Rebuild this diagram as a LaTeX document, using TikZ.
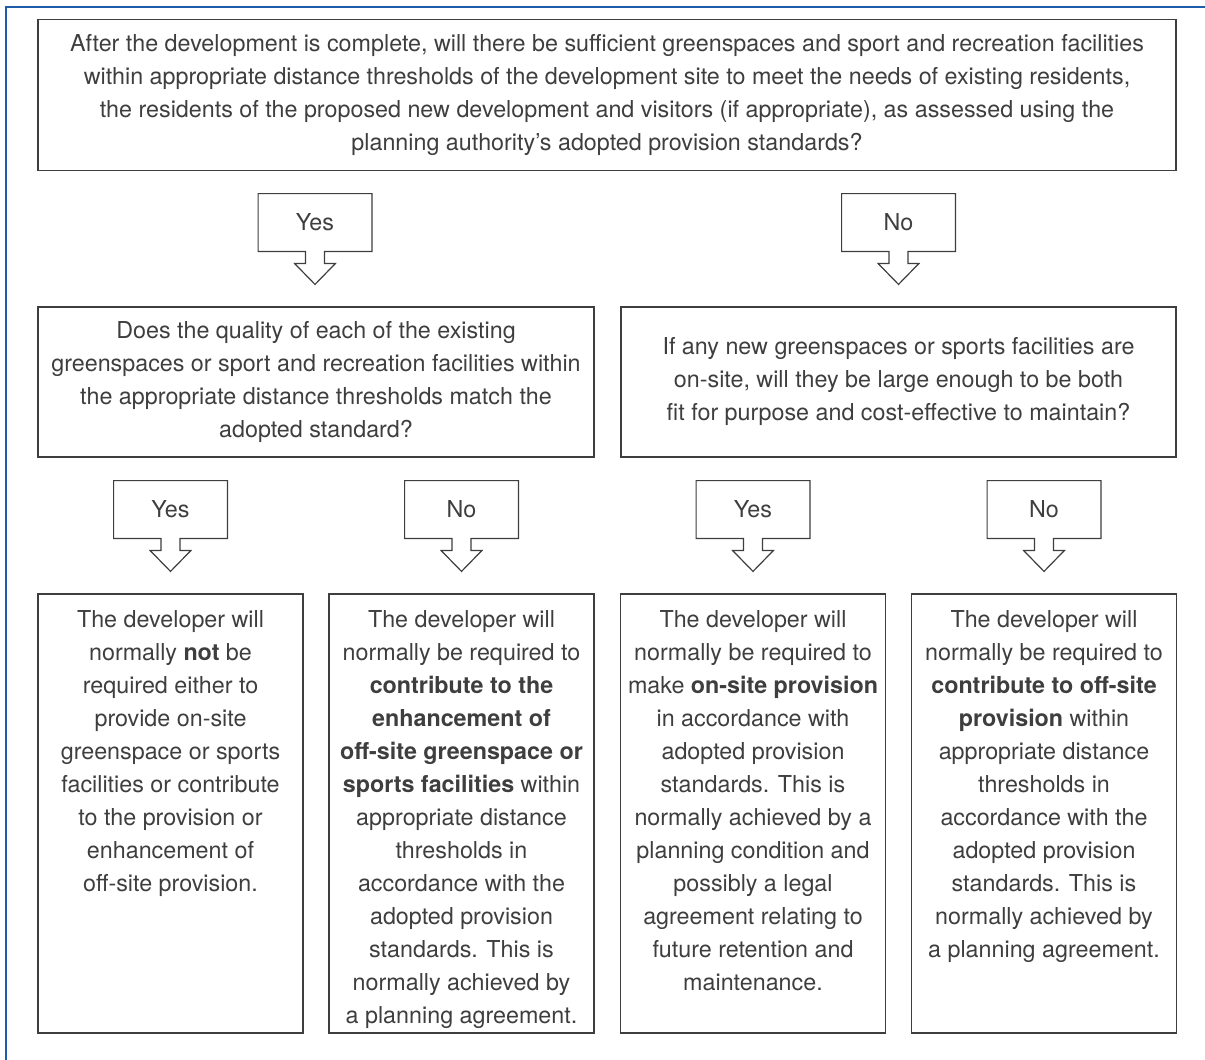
\documentclass[tikz,border=0pt]{standalone}
\usepackage{fontspec}
\setmainfont{TeX Gyre Heros}
\usetikzlibrary{positioning,calc}
\definecolor{frameblue}{RGB}{30,92,168}
\definecolor{inkgrey}{RGB}{62,62,62}

\begin{document}
\begin{tikzpicture}[x=0.5pt,y=-0.5pt,
    txt/.style={inner sep=0pt,align=center,text=inkgrey,font=\fontsize{11.65}{16.5}\selectfont},
    qbox/.style={txt,draw=inkgrey,line width=0.75pt},
    outbox/.style={draw=inkgrey,line width=0.75pt,minimum width=132.5pt,minimum height=219.5pt,inner sep=0pt},
    answer/.style={txt,minimum width=56.5pt,minimum height=28.5pt},
    answerline/.style={draw=inkgrey,line width=0.6pt,line join=miter}]
    \useasboundingbox (0,0) rectangle (1205,1060);
    \draw[frameblue,line width=1pt] (6,1060) -- (6,7) -- (1205,7);

    % questions
    \node[qbox,minimum width=569pt,minimum height=75.5pt] (sufficient) at (607,95)
        {After the development is complete, will there be sufficient greenspaces and sport and recreation facilities\\
         within appropriate distance thresholds of the development site to meet the needs of existing residents,\\
         the residents of the proposed new development and visitors (if appropriate), as assessed using the\\
         planning authority’s adopted provision standards?};
    \node[qbox,minimum width=278pt,minimum height=75pt] (quality) at (316,382)
        {Does the quality of each of the existing\\
         greenspaces or sport and recreation facilities within\\
         the appropriate distance thresholds match the\\
         adopted standard?};
    \node[qbox,minimum width=277.5pt,minimum height=75pt] (onsite) at (898.5,382)
        {If any new greenspaces or sports facilities are\\
         on-site, will they be large enough to be both\\
         fit for purpose and cost-effective to maintain?};

    % yes / no arrows
    \foreach \n/\x/\y/\t in {yesA/315/222.5/Yes, noA/898.5/222.5/No,
                             yesB/170.5/509.5/Yes, noB/461.5/509.5/No,
                             yesC/753/509.5/Yes, noC/1044/509.5/No}{
        \node[answer] (\n) at (\x,\y) {\t};
        \draw[answerline] (\n.north west) -- (\n.north east) -- (\n.south east)
            -- ($(\n.south)+(9.5,0)$) -- ++(0,12) -- ++(11,0) -- ($(\n.south)+(0,33)$)
            -- ($(\n.south)+(-20.5,12)$) -- ++(11,0) -- ++(0,-12) -- (\n.south west) -- cycle;
    }

    % outcomes
    \node[outbox] (outA) at (170.5,813.5) {};
    \node[outbox] (outB) at (461.5,813.5) {};
    \node[outbox] (outC) at (753,813.5) {};
    \node[outbox] (outD) at (1044,813.5) {};

    \node[txt,below=8.5pt of outA.north] (txtA)
        {The developer will\\ normally \textbf{not} be\\ required either to\\ provide on-site\\
         greenspace or sports\\ facilities or contribute\\ to the provision or\\ enhancement of\\
         off-site provision.};
    \node[txt,below=8.5pt of outB.north] (txtB)
        {The developer will\\ normally be required to\\ \textbf{contribute to the}\\ \textbf{enhancement of}\\
         \textbf{off-site greenspace or}\\ \textbf{sports facilities} within\\ appropriate distance\\
         thresholds in\\ accordance with the\\ adopted provision\\ standards. This is\\
         normally achieved by\\ a planning agreement.};
    \node[txt,below=8.5pt of outC.north] (txtC)
        {The developer will\\ normally be required to\\ make \textbf{on-site provision}\\ in accordance with\\
         adopted provision\\ standards. This is\\ normally achieved by a\\ planning condition and\\
         possibly a legal\\ agreement relating to\\ future retention and\\ maintenance.};
    \node[txt,below=8.5pt of outD.north] (txtD)
        {The developer will\\ normally be required to\\ \textbf{contribute to off-site}\\ \textbf{provision} within\\
         appropriate distance\\ thresholds in\\ accordance with the\\ adopted provision\\
         standards. This is\\ normally achieved by\\ a planning agreement.};
\end{tikzpicture}
\end{document}
